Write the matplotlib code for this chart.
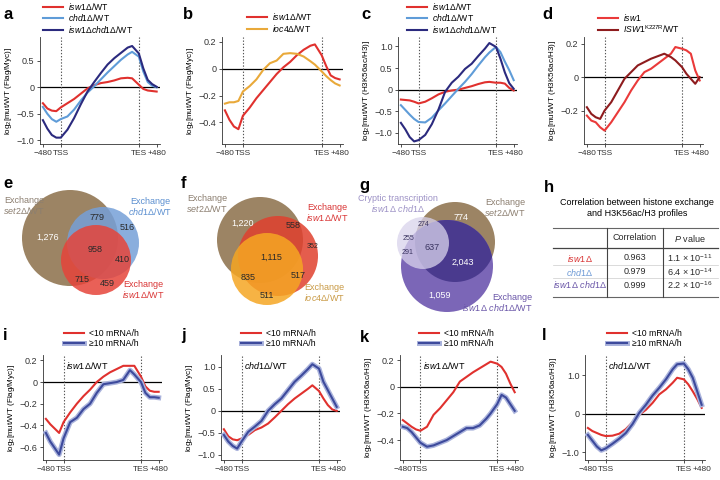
import numpy as np
import matplotlib
matplotlib.use("Agg")
import matplotlib.pyplot as plt
import matplotlib.patheffects as pe
from matplotlib.patches import Circle

plt.rcParams["font.family"] = ["Liberation Sans", "DejaVu Sans"]
plt.rcParams["mathtext.fontset"] = "custom"
plt.rcParams["mathtext.rm"] = "Liberation Sans"
plt.rcParams["mathtext.it"] = "Liberation Sans:italic"
plt.rcParams["mathtext.bf"] = "Liberation Sans:bold"

# metagene positions: -480 bp .. TSS .. scaled gene body .. TES .. +480 bp
POS = [0, 2, 4, 6, 8, 11, 14, 17, 20, 23, 26, 29, 32, 35, 38, 40, 43, 45, 47, 49, 51]
TSS, TES = 8, 43
XTICKS = [0, 8, 43, 51]
XTICKLABELS = ["\u2212480", "TSS", "TES", "+480"]

# a: exchange, Flag/Myc
a_isw1 = [-0.30, -0.40, -0.44, -0.45, -0.38, -0.30, -0.22, -0.12, -0.02, 0.04, 0.08, 0.10, 0.13, 0.17, 0.18, 0.17, 0.05, -0.03, -0.06, -0.07, -0.08]
a_chd1 = [-0.37, -0.50, -0.60, -0.65, -0.60, -0.55, -0.42, -0.25, -0.10, 0.02, 0.15, 0.28, 0.40, 0.52, 0.62, 0.67, 0.58, 0.30, 0.10, 0.03, 0.00]
a_dbl = [-0.62, -0.78, -0.90, -0.95, -0.95, -0.80, -0.58, -0.32, -0.08, 0.10, 0.27, 0.43, 0.55, 0.65, 0.75, 0.78, 0.64, 0.36, 0.14, 0.06, 0.01]
# b
b_isw1 = [-0.31, -0.38, -0.43, -0.45, -0.35, -0.29, -0.22, -0.16, -0.10, -0.04, 0.01, 0.05, 0.10, 0.14, 0.17, 0.18, 0.10, 0.02, -0.05, -0.07, -0.08]
b_ioc4 = [-0.26, -0.25, -0.25, -0.24, -0.17, -0.13, -0.08, -0.01, 0.04, 0.06, 0.11, 0.115, 0.11, 0.09, 0.055, 0.03, -0.02, -0.055, -0.085, -0.11, -0.125]
# c: H3K56ac/H3
c_isw1 = [-0.23, -0.24, -0.25, -0.28, -0.32, -0.28, -0.20, -0.11, -0.05, -0.02, 0.00, 0.04, 0.08, 0.13, 0.17, 0.18, 0.16, 0.16, 0.14, 0.04, -0.02]
c_chd1 = [-0.36, -0.47, -0.58, -0.68, -0.75, -0.76, -0.65, -0.48, -0.32, -0.15, 0.02, 0.18, 0.36, 0.56, 0.75, 0.86, 0.99, 0.87, 0.65, 0.45, 0.22]
c_dbl = [-0.77, -0.92, -1.10, -1.20, -1.17, -1.05, -0.80, -0.46, -0.05, 0.16, 0.30, 0.48, 0.60, 0.78, 0.95, 1.08, 0.99, 0.72, 0.40, 0.15, 0.02]
# d
d_isw1 = [-0.23, -0.26, -0.27, -0.30, -0.32, -0.27, -0.21, -0.15, -0.08, -0.02, 0.03, 0.05, 0.08, 0.11, 0.14, 0.18, 0.17, 0.16, 0.14, 0.04, -0.02]
d_k227r = [-0.18, -0.22, -0.24, -0.25, -0.20, -0.15, -0.08, -0.01, 0.03, 0.07, 0.09, 0.11, 0.125, 0.14, 0.12, 0.10, 0.06, 0.02, -0.01, -0.04, 0.00]
# i-l: split by transcription frequency
i_low = [-0.34, -0.39, -0.43, -0.47, -0.37, -0.28, -0.20, -0.13, -0.07, 0.00, 0.05, 0.09, 0.12, 0.15, 0.15, 0.15, 0.05, -0.04, -0.08, -0.09, -0.09]
i_high = [-0.47, -0.55, -0.61, -0.67, -0.52, -0.37, -0.33, -0.25, -0.20, -0.10, -0.02, -0.01, 0.00, 0.02, 0.11, 0.07, 0.00, -0.10, -0.14, -0.14, -0.145]
j_low = [-0.42, -0.58, -0.65, -0.67, -0.63, -0.55, -0.44, -0.38, -0.29, -0.15, 0.00, 0.15, 0.28, 0.39, 0.50, 0.58, 0.45, 0.28, 0.13, 0.03, 0.00]
j_high = [-0.55, -0.70, -0.80, -0.86, -0.70, -0.48, -0.36, -0.23, 0.00, 0.15, 0.28, 0.47, 0.66, 0.80, 0.95, 1.06, 0.96, 0.66, 0.47, 0.28, 0.09]
k_low = [-0.25, -0.275, -0.30, -0.32, -0.33, -0.30, -0.21, -0.16, -0.10, -0.04, 0.04, 0.075, 0.11, 0.14, 0.17, 0.19, 0.175, 0.15, 0.10, 0.025, -0.04]
k_high = [-0.30, -0.31, -0.34, -0.38, -0.42, -0.45, -0.44, -0.42, -0.40, -0.37, -0.34, -0.31, -0.31, -0.29, -0.24, -0.20, -0.13, -0.06, -0.08, -0.13, -0.18]
l_low = [-0.37, -0.45, -0.50, -0.55, -0.58, -0.57, -0.52, -0.40, -0.22, -0.03, 0.10, 0.28, 0.50, 0.63, 0.80, 0.93, 0.89, 0.76, 0.58, 0.38, 0.15]
l_high = [-0.55, -0.70, -0.85, -0.95, -0.90, -0.78, -0.65, -0.50, -0.27, 0.02, 0.23, 0.47, 0.67, 0.89, 1.15, 1.28, 1.30, 1.15, 0.93, 0.58, 0.23]

# Venn region counts
e_counts = ["1,276", "779", "516", "958", "410", "715", "459"]
f_counts = ["1,220", "558", "352", "1,115", "835", "517", "511"]
g_counts = ["774", "274", "255", "637", "291", "2,043", "1,059"]

# h table
h_rows = ["isw1\u0394", "chd1\u0394", "isw1\u0394\\ chd1\u0394"]
h_corr = ["0.963", "0.979", "0.999"]
h_pval = [r"1.1 $\times$ 10$^{-11}$", r"6.4 $\times$ 10$^{-14}$", r"2.2 $\times$ 10$^{-16}$"]

RED = "#e0312e"
LBLUE = "#5f9cd8"
NAVY = "#2b2a7e"
ORANGE = "#e9a93a"
DRED = "#8e1c1e"
BRED = "#ea3a3a"
BLUE2 = "#3d4a9c"
BROWN = "#9c8464"
PURPLE = "#7b66b7"
FS = 6.5

W, H = 720, 480
fig = plt.figure(figsize=(7.2, 4.8), dpi=100)

ov = fig.add_axes([0, 0, 1, 1])
ov.set_xlim(0, W)
ov.set_ylim(H, 0)
ov.axis("off")


def px_axes(l, t, r, b):
    return fig.add_axes([l / W, 1 - b / H, (r - l) / W, (b - t) / H])


def it(s):
    return r"$\mathit{" + s + "}$"


def profile(box, ylim, yticks, ylab, lines, leg_xy, inner=None):
    ax = px_axes(*box)
    for sp in ("top", "right"):
        ax.spines[sp].set_visible(False)
    for sp in ("left", "bottom"):
        ax.spines[sp].set_linewidth(0.6)
        ax.spines[sp].set_color("#333333")
    ax.axhline(0, color="black", lw=0.9, zorder=1)
    for xv in (TSS, TES):
        ax.axvline(xv, color="#555555", lw=0.8, ls=(0, (1.2, 1.6)), zorder=1)
    handles = []
    for ys, color, label, thick in lines:
        kw = {}
        if thick:
            kw["path_effects"] = [pe.Stroke(linewidth=3.6, foreground="#aab3dc"), pe.Normal()]
        h, = ax.plot(POS, ys, color=color, lw=1.5, label=label, zorder=3, **kw)
        handles.append(h)
    ax.set_xlim(-1.3, 52.5)
    ax.set_ylim(*ylim)
    ax.set_xticks(XTICKS)
    ax.set_xticklabels(XTICKLABELS)
    ax.set_yticks(yticks)
    ax.set_yticklabels([("0" if v == 0 else f"{v:.1f}").replace("-", "\u2212") for v in yticks])
    ax.tick_params(labelsize=FS, length=2.5, width=0.6, pad=1.5, colors="#333333")
    ax.tick_params(axis="x", labelsize=6)
    ax.set_ylabel(r"log$_2$[mut/WT (" + ylab + ")]", fontsize=5.8, labelpad=2)
    ax.patch.set_alpha(0)
    ax.legend(handles=handles, loc="lower left", bbox_to_anchor=(leg_xy[0] / W, 1 - leg_xy[1] / H),
              bbox_transform=fig.transFigure, frameon=False, fontsize=6.2, handlelength=2.3,
              handletextpad=0.6, labelspacing=0.06, borderpad=0, borderaxespad=0)
    if inner:
        ax.text(TSS + 1.2, ylim[1] - (ylim[1] - ylim[0]) * 0.1, inner, fontsize=FS, va="center")
    return ax


profile((40, 37, 160, 144), (-1.07, 0.95), [-1.0, -0.5, 0, 0.5], "Flag/Myc",
        [(a_isw1, RED, it("isw1\u0394") + "/WT", False),
         (a_chd1, LBLUE, it("chd1\u0394") + "/WT", False),
         (a_dbl, NAVY, it("isw1\u0394chd1\u0394") + "/WT", False)], (43, 35))
profile((222, 37, 343, 144), (-0.56, 0.235), [-0.4, -0.2, 0, 0.2], "Flag/Myc",
        [(b_isw1, RED, it("isw1\u0394") + "/WT", False),
         (b_ioc4, ORANGE, it("ioc4\u0394") + "/WT", False)], (247, 34))
profile((398, 37, 517, 144), (-1.26, 1.22), [-1.0, -0.5, 0, 0.5, 1.0], "H3K56ac/H3",
        [(c_isw1, RED, it("isw1\u0394") + "/WT", False),
         (c_chd1, LBLUE, it("chd1\u0394") + "/WT", False),
         (c_dbl, NAVY, it("isw1\u0394chd1\u0394") + "/WT", False)], (407, 35))
profile((584, 37, 703, 144), (-0.40, 0.24), [-0.2, 0, 0.2], "H3K56ac/H3",
        [(d_isw1, BRED, it("isw1"), False),
         (d_k227r, DRED, it("ISW1") + r"$^{\mathrm{K227R}}$/WT", False)], (598, 35))

low_lab, high_lab = "<10 mRNA/h", "\u226510 mRNA/h"
profile((43, 355, 162, 460), (-0.72, 0.25), [-0.6, -0.4, -0.2, 0, 0.2], "Flag/Myc",
        [(i_low, RED, low_lab, False), (i_high, BLUE2, high_lab, True)], (64, 348),
        inner=it("isw1\u0394") + "/WT")
profile((221, 355, 340, 460), (-1.12, 1.27), [-1.0, -0.5, 0, 0.5, 1.0], "Flag/Myc",
        [(j_low, RED, low_lab, False), (j_high, BLUE2, high_lab, True)], (241, 348),
        inner=it("chd1\u0394") + "/WT")
profile((400, 355, 518, 460), (-0.55, 0.24), [-0.4, -0.2, 0, 0.2], "H3K56ac/H3",
        [(k_low, RED, low_lab, False), (k_high, BLUE2, high_lab, True)], (419, 348),
        inner=it("isw1\u0394") + "/WT")
profile((585, 355, 705, 460), (-1.2, 1.52), [-1.0, 0, 1.0], "H3K56ac/H3",
        [(l_low, RED, low_lab, False), (l_high, BLUE2, high_lab, True)], (607, 348),
        inner=it("chd1\u0394") + "/WT")


# ---- Venn diagrams (pixel layout on the overlay axes)
def circ(c, r, color, alpha=1.0, z=1):
    p = Circle(c, r, facecolor=color, edgecolor="none", alpha=alpha, zorder=z)
    ov.add_patch(p)
    return p


def put(xy, s, color="#2a2a2a", size=FS, **kw):
    ov.text(xy[0], xy[1], s, color=color, fontsize=size, ha="center", va="center", **kw)


def label(xy, s, color, ha="center"):
    ov.text(xy[0], xy[1], s, fontsize=FS, color=color, ha=ha, va="center",
            multialignment=ha, linespacing=1.1, zorder=6)


# e
circ((70, 238), 48, BROWN, 1.0, 1)
circ((103, 243), 36, "#76a0d8", 0.85, 2)
circ((96, 260), 35, "#e6443a", 0.85, 3)
e_xy = [(48, 237), (97, 217), (127, 228), (95, 250), (122, 260), (82, 280), (107, 284)]
for (x, y), s in zip(e_xy, e_counts):
    put((x, y), s, "white" if s == "1,276" else "#2a2a2a", zorder=5)
label((24, 206), "Exchange\n" + it("set2\u0394") + "/WT", "#8c7f70")
label((150, 207), "Exchange\n" + it("chd1\u0394") + "/WT", "#5b8fd0")
label((143, 290), "Exchange\n" + it("isw1\u0394") + "/WT", "#d93636")

# f
circ((260, 240), 43, BROWN, 1.0, 1)
circ((278, 256), 40, "#e0402e", 0.85, 2)
circ((267, 269), 36, "#f5a623", 0.85, 3)
f_xy = [(243, 223), (293, 225), (313, 247), (271, 257), (248, 277), (298, 276), (267, 296)]
for (x, y), s in zip(f_xy, f_counts):
    put((x, y), s, "white" if s == "1,220" else "#2a2a2a", FS - 1.5 if s == "352" else FS, zorder=5)
label((207, 204), "Exchange\n" + it("set2\u0394") + "/WT", "#8c7f70")
label((327, 213), "Exchange\n" + it("isw1\u0394") + "/WT", "#d93636")
label((324, 293), "Exchange\n" + it("ioc4\u0394") + "/WT", "#c99a45")

# g
brown_g = circ((455, 242), 40, BROWN, 1.0, 1)
circ((447, 266), 46, PURPLE, 1.0, 2)
inter = circ((447, 266), 46, "#4a3a8e", 1.0, 3)
inter.set_clip_path(brown_g)
circ((423, 243), 26, "#d9d3ec", 0.75, 4)
g_xy = [(461, 217), (423, 225), (408, 238), (432, 247), (408, 253), (463, 262), (440, 295)]
for (x, y), s in zip(g_xy, g_counts):
    white = s in ("774", "2,043", "1,059")
    small = s in ("255", "291", "274")
    put((x, y), s, "white" if white else "#3a3460", FS - 1.5 if small else FS, zorder=5)
label((398, 204), "Cryptic transcription\n" + it("isw1\u0394\\ chd1\u0394"), "#9d92c6")
label((505, 208), "Exchange\n" + it("set2\u0394") + "/WT", "#8c7f70")
label((532, 303), "Exchange\n" + it("isw1\u0394\\ chd1\u0394") + "/WT", "#6a56a8", ha="right")

# ---- h: correlation table
ov.text(637, 208, "Correlation between histone exchange\nand H3K56ac/H3 profiles", fontsize=FS,
        ha="center", va="center", linespacing=1.2)
ov.plot([553, 718], [228, 228], color="#666666", lw=0.8)
ov.plot([553, 718], [248, 248], color="#444444", lw=0.9)
ov.plot([553, 718], [297, 297], color="#666666", lw=0.8)
for yy in (265, 278):
    ov.plot([553, 718], [yy, yy], color="#cccccc", lw=0.5)
for xx in (607, 663):
    ov.plot([xx, xx], [228, 297], color="#444444", lw=0.8)
put((635, 238), "Correlation")
put((690, 238), it("P") + " value")
row_colors = ["#d93636", "#6f9bd6", "#6a56a8"]
for k, y in enumerate([258, 272, 285]):
    put((580, y), it(h_rows[k]), row_colors[k])
    put((635, y), h_corr[k])
    put((690, y), h_pval[k])

# panel letters
for s, x, y in [("a", 3, 7), ("b", 183, 7), ("c", 361, 7), ("d", 542, 7),
                ("e", 3, 176), ("f", 181, 176), ("g", 359, 178), ("h", 544, 180),
                ("i", 3, 328), ("j", 181, 328), ("k", 360, 330), ("l", 542, 328)]:
    ov.text(x, y, s, fontsize=12, fontweight="bold", va="top", ha="left")

fig.savefig("out.png", dpi=100)
